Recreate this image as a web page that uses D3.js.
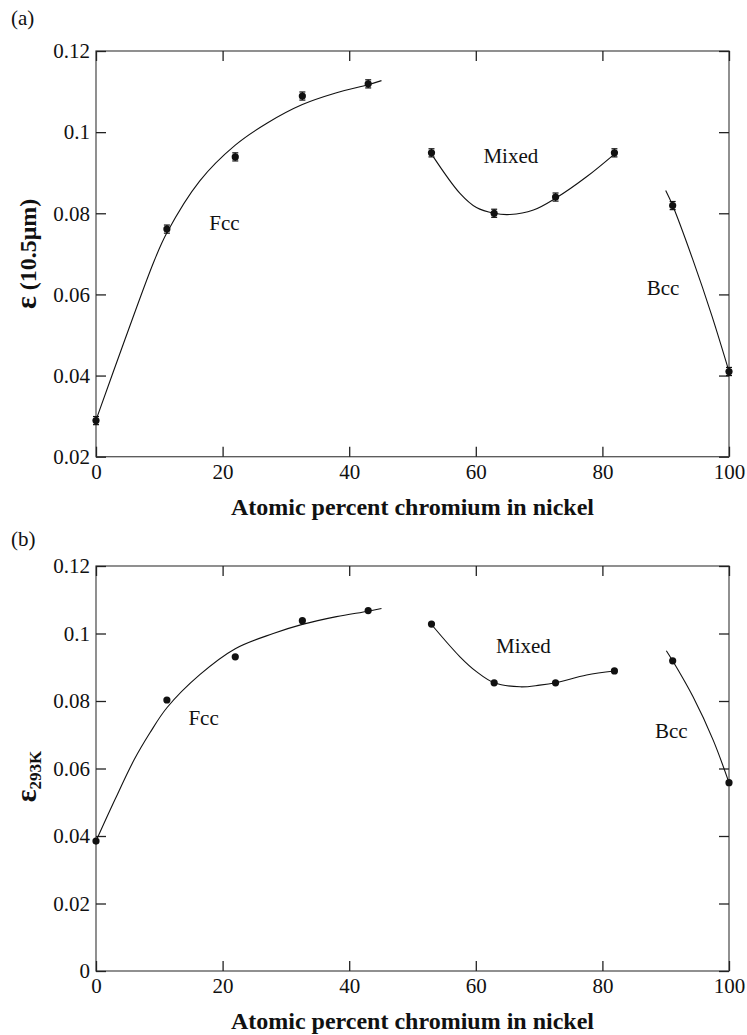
<!DOCTYPE html>
<html>
<head>
<meta charset="utf-8">
<script src="https://cdn.jsdelivr.net/npm/d3@7"></script>
<style>
  body { margin: 0; background: #fff; }
  svg text { font-family: "Liberation Serif", "DejaVu Serif", "Times New Roman", serif; fill: #111; }
</style>
</head>
<body>
<svg id="chart"></svg>
<script>
// x values (atomic % Cr) and tick labels
var crPct = [0, 11.2, 22, 32.6, 43, 53, 62.9, 72.6, 81.9, 91.1, 100];
var xTicks = [0, 20, 40, 60, 80, 100];

// panel (a): emissivity at 10.5 um, with error bars
var epsA = [0.0289, 0.0761, 0.0939, 0.1089, 0.1119, 0.0949, 0.0800, 0.0840, 0.0949, 0.0819, 0.0410];
var errA = [0.001, 0.001, 0.001, 0.001, 0.001, 0.001, 0.001, 0.001, 0.001, 0.001, 0.001];
var yTicksA = [0.02, 0.04, 0.06, 0.08, 0.1, 0.12];
var yLabelsA = ["0.02", "0.04", "0.06", "0.08", "0.1", "0.12"];

// panel (b): total emissivity at 293 K
var epsB = [0.0385, 0.0803, 0.0931, 0.1038, 0.1068, 0.1028, 0.0854, 0.0854, 0.0889, 0.0919, 0.0558];
var yTicksB = [0, 0.02, 0.04, 0.06, 0.08, 0.1, 0.12];
var yLabelsB = ["0", "0.02", "0.04", "0.06", "0.08", "0.1", "0.12"];

// fitted curves
var fccA = [[0,0.029],[4.6,0.049],[9.2,0.0683],[11.2,0.0752],[16.4,0.0880],[22,0.0968],[27,0.1022],[32.6,0.1068],[38,0.1097],[43,0.1117],[45.1,0.1127]];
var mixA = [[53.3,0.0939],[57.5,0.0849],[60.1,0.0814],[62.9,0.0800],[65.4,0.0797],[69.1,0.0808],[72.6,0.0837],[77.5,0.0890],[81.9,0.0946]];
var bccA = [[90.0,0.0856],[91.1,0.0819],[94.3,0.0685],[97.3,0.0547],[100,0.041]];
var fccB = [[0,0.0385],[3,0.0508],[6,0.0625],[8.5,0.0705],[11.2,0.0780],[16.4,0.0878],[22,0.0955],[28,0.1000],[32.6,0.1027],[38,0.1050],[43,0.1066],[45.1,0.1074]];
var mixB = [[53.3,0.1020],[57.5,0.0931],[60.1,0.0887],[62.9,0.0854],[67,0.0842],[70.1,0.0847],[72.6,0.0854],[77.5,0.0877],[81.9,0.0889]];
var bccB = [[90.1,0.0949],[91.1,0.0919],[94.3,0.0813],[97.5,0.0684],[100,0.0558]];

var phaseNames = ["Fcc", "Mixed", "Bcc"];
var phaseXA = [17.9, 61.2, 87.0], phaseYA = [0.0759, 0.0925, 0.0599];
var phaseXB = [14.6, 63.2, 88.3], phaseYB = [0.0729, 0.0941, 0.0689];

var W = 747, H = 1035;
var svg = d3.select("#chart").attr("width", W).attr("height", H);

var x = d3.scaleLinear().domain([0, 100]).range([96, 729]);

var panels = [
  { tag: "(a)", tagY: 25, top: 51, bottom: 456.7, dom: [0.02, 0.12], ticks: yTicksA, labels: yLabelsA,
    eps: epsA, err: errA, curves: [fccA, mixA, bccA], px: phaseXA, py: phaseYA, titleY: 515 },
  { tag: "(b)", tagY: 546, top: 566, bottom: 971, dom: [0, 0.12], ticks: yTicksB, labels: yLabelsB,
    eps: epsB, err: null, curves: [fccB, mixB, bccB], px: phaseXB, py: phaseYB, titleY: 1029 }
];

panels.forEach(function(p, pi) {
  var y = d3.scaleLinear().domain(p.dom).range([p.bottom, p.top]);
  var g = svg.append("g");

  // frame
  g.append("rect")
    .attr("x", x(0)).attr("y", y(p.dom[1]))
    .attr("width", x(100) - x(0)).attr("height", y(p.dom[0]) - y(p.dom[1]))
    .attr("fill", "none").attr("stroke", "#555").attr("stroke-width", 1.3);

  var bottomAx = d3.axisBottom(x).tickValues(xTicks).tickSize(-10).tickSizeOuter(0).tickPadding(7);
  var topAx = d3.axisTop(x).tickValues(xTicks).tickSize(-10).tickSizeOuter(0).tickFormat("");
  var leftAx = d3.axisLeft(y).tickValues(p.ticks).tickSize(-10).tickSizeOuter(0).tickPadding(6)
    .tickFormat(function(d, i) { return p.labels[i]; });
  var rightAx = d3.axisRight(y).tickValues(p.ticks).tickSize(-10).tickSizeOuter(0).tickFormat("");

  [[bottomAx, "translate(0," + p.bottom + ")"], [topAx, "translate(0," + p.top + ")"],
   [leftAx, "translate(" + x(0) + ",0)"], [rightAx, "translate(" + x(100) + ",0)"]].forEach(function(a) {
    var ag = g.append("g").attr("transform", a[1]).call(a[0]);
    ag.attr("font-family", null);
    ag.select(".domain").remove();
    ag.selectAll(".tick line").attr("stroke", "#222").attr("stroke-width", 1.3);
    ag.selectAll(".tick text").style("font-size", "21px").attr("fill", "#111");
  });

  // fitted curves
  var line = d3.line().x(function(d) { return x(d[0]); }).y(function(d) { return y(d[1]); })
    .curve(d3.curveCatmullRom.alpha(0.5));
  p.curves.forEach(function(c) {
    g.append("path").attr("d", line(c)).attr("fill", "none").attr("stroke", "#111").attr("stroke-width", 1.1);
  });

  // error bars
  if (p.err) {
    var eb = g.selectAll("g.err").data(crPct).enter().append("g");
    eb.append("line")
      .attr("x1", function(d) { return x(d); }).attr("x2", function(d) { return x(d); })
      .attr("y1", function(d, i) { return y(p.eps[i] - p.err[i]); })
      .attr("y2", function(d, i) { return y(p.eps[i] + p.err[i]); })
      .attr("stroke", "#111").attr("stroke-width", 1.2);
    [-1, 1].forEach(function(s) {
      eb.append("line")
        .attr("x1", function(d) { return x(d) - 3; }).attr("x2", function(d) { return x(d) + 3; })
        .attr("y1", function(d, i) { return y(p.eps[i] + s * p.err[i]); })
        .attr("y2", function(d, i) { return y(p.eps[i] + s * p.err[i]); })
        .attr("stroke", "#111").attr("stroke-width", 1.2);
    });
  }

  // data points
  g.selectAll("circle.pt").data(crPct).enter().append("circle")
    .attr("cx", function(d) { return x(d); })
    .attr("cy", function(d, i) { return y(p.eps[i]); })
    .attr("r", 3.6).attr("fill", "#111");

  // phase labels
  g.selectAll("text.phase").data(phaseNames).enter().append("text")
    .attr("x", function(d, i) { return x(p.px[i]); })
    .attr("y", function(d, i) { return y(p.py[i]); })
    .style("font-size", "21px")
    .text(function(d) { return d; });

  // panel tag
  g.append("text").attr("x", 11).attr("y", p.tagY).style("font-size", "21px").text(p.tag);

  // x title
  g.append("text").attr("x", (x(0) + x(100)) / 2).attr("y", p.titleY)
    .attr("text-anchor", "middle").style("font-size", "24px").style("font-weight", "bold")
    .text("Atomic percent chromium in nickel");

  // y title
  var cy = (p.top + p.bottom) / 2;
  var yt = g.append("text").attr("transform", "translate(36," + (cy + (pi ? 8 : 0)) + ") rotate(-90)")
    .attr("text-anchor", "middle").style("font-weight", "bold").style("font-size", "24px");
  if (pi === 0) {
    yt.append("tspan").style("font-size", "30px").text("ε");
    yt.append("tspan").text(" (10.5μm)");
  } else {
    yt.append("tspan").style("font-size", "30px").text("ε");
    yt.append("tspan").attr("dy", 5).style("font-size", "17px").text("293K");
  }
});
</script>
</body>
</html>
